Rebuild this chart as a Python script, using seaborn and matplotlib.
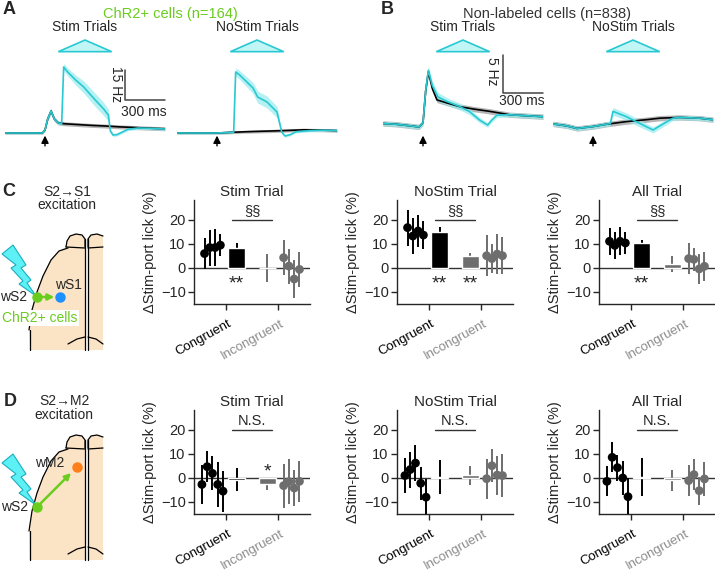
import numpy as np
import pandas as pd
import matplotlib
matplotlib.use("Agg")
import matplotlib.pyplot as plt
import matplotlib.transforms as mtransforms
from matplotlib.patches import Polygon
import seaborn as sns

W, H = 715, 574

# stimulus window (ms): onset, peak, offset
STIM_WIN = [100, 300, 500]

# A: ChR2+ cells, time (ms), mean (Hz, baseline subtracted), sem
A_STIM_K_T = [-300, -200, -100, -20, 0, 20, 45, 70, 100, 150, 250, 350, 450, 550, 650, 750, 900]
A_STIM_K_M = [0, 0, 0, 0, 1.5, 7, 11, 7, 5, 4.6, 4.2, 3.8, 3.5, 3.1, 2.8, 2.5, 2.1]
A_STIM_K_S = [0.6, 0.6, 0.6, 0.6, 0.7, 1.0, 1.3, 1.1, 1.0, 1.0, 1.0, 1.0, 1.0, 1.0, 1.0, 1.0, 1.0]
A_STIM_C_T = [-300, -200, -100, -20, 0, 20, 45, 70, 100, 125, 140, 170, 230, 290, 370, 440, 475,
              490, 510, 540, 580, 620, 700, 800, 900]
A_STIM_C_M = [0, 0, 0, 0, 1.5, 7, 11, 7, 5, 4.6, 33, 30.5, 26.5, 23, 17, 12, 9,
              1, -1, -0.8, 0.5, 1.8, 2.5, 2.3, 2.0]
A_STIM_C_S = [0.5, 0.5, 0.5, 0.5, 0.6, 0.9, 1.2, 1.0, 0.9, 0.9, 1.8, 2.0, 2.5, 3.0, 3.3, 3.3, 3.0,
              1.0, 0.7, 0.7, 0.7, 0.7, 0.7, 0.7, 0.7]
A_NOST_K_T = [-300, -150, 0, 100, 200, 350, 500, 650, 800, 900]
A_NOST_K_M = [0, 0, 0, 0.3, 0.6, 0.9, 1.2, 1.6, 1.4, 1.2]
A_NOST_K_S = [0.6, 0.6, 0.6, 0.7, 0.7, 0.8, 0.8, 0.8, 0.8, 0.8]
A_NOST_C_T = [-300, -150, 0, 100, 125, 140, 170, 270, 305, 375, 450, 485, 510, 550, 590, 700, 800, 900]
A_NOST_C_M = [0, 0, 0, 0.3, 0.4, 30.5, 29, 22.5, 18, 15.5, 10.5, 0.5, -1.5, -0.8, 0.6, 1.2, 1.4, 1.2]
A_NOST_C_S = [0.5, 0.5, 0.5, 0.5, 0.5, 2.0, 2.2, 2.8, 3.0, 3.0, 2.8, 0.8, 0.6, 0.6, 0.6, 0.6, 0.6, 0.6]

# B: non-labeled cells
B_STIM_K_T = [-300, -200, -100, -30, 0, 20, 40, 70, 105, 180, 280, 380, 500, 650, 800, 900]
B_STIM_K_M = [0.2, 0.1, -0.1, -0.25, 0.3, 4.5, 7.0, 4.8, 3.3, 2.9, 2.4, 2.1, 1.8, 1.35, 1.2, 1.1]
B_STIM_K_S = [0.35, 0.35, 0.35, 0.35, 0.35, 0.4, 0.45, 0.4, 0.35, 0.35, 0.35, 0.35, 0.35, 0.35, 0.35, 0.35]
B_STIM_C_T = [-300, -200, -100, -30, 0, 20, 40, 70, 112, 180, 280, 350, 425, 485, 515, 555, 650, 800, 900]
B_STIM_C_M = [0.2, 0.1, -0.1, -0.25, 0.3, 4.5, 7.2, 5.2, 3.7, 3.1, 2.4, 1.75, 0.65, 0.0, 0.65, 1.3, 1.35, 1.2, 1.1]
B_STIM_C_S = [0.3, 0.3, 0.3, 0.3, 0.3, 0.45, 0.6, 0.6, 0.6, 0.5, 0.45, 0.4, 0.35, 0.3, 0.3, 0.3, 0.3, 0.3, 0.3]
B_NOST_K_T = [-300, -200, -120, 0, 100, 250, 400, 500, 650, 800, 900]
B_NOST_K_M = [0.15, -0.1, -0.45, -0.2, 0.1, 0.45, 0.7, 0.9, 1.0, 0.9, 0.7]
B_NOST_K_S = [0.35, 0.35, 0.35, 0.35, 0.35, 0.35, 0.35, 0.35, 0.35, 0.35, 0.35]
B_NOST_C_T = [-300, -200, -120, 0, 100, 130, 150, 250, 375, 450, 555, 600, 650, 800, 900]
B_NOST_C_M = [0.15, -0.1, -0.45, -0.2, 0.1, 0.2, 1.8, 1.1, 0.0, -0.65, 0.45, 0.9, 1.0, 0.9, 0.7]
B_NOST_C_S = [0.3, 0.3, 0.3, 0.3, 0.3, 0.3, 0.5, 0.5, 0.45, 0.4, 0.35, 0.3, 0.3, 0.3, 0.3]

# C/D: change in stim-port lick (%), per mouse (mean, sem) and group bars [Congruent, Incongruent]
C_STIM_CONG = [6.0, 8.5, 8.5, 9.5]
C_STIM_CONG_ERR = [6.3, 7.5, 7.8, 4.5]
C_STIM_BAR = [8.2, 0.0]
C_STIM_BAR_ERR = [2.3, 5.8]
C_STIM_INC = [4.3, 0.8, -4.6, -0.6]
C_STIM_INC_ERR = [7.3, 7.3, 7.9, 7.3]

C_NOST_CONG = [16.8, 13.3, 15.4, 13.7]
C_NOST_CONG_ERR = [7.5, 7.3, 6.5, 5.7]
C_NOST_BAR = [15.1, 5.0]
C_NOST_BAR_ERR = [2.1, 1.4]
C_NOST_INC = [5.1, 3.9, 5.8, 5.1]
C_NOST_INC_ERR = [8.5, 6.2, 8.2, 7.6]

C_ALL_CONG = [11.1, 9.4, 11.1, 10.4]
C_ALL_CONG_ERR = [5.5, 5.6, 5.8, 4.5]
C_ALL_BAR = [10.6, 1.8]
C_ALL_BAR_ERR = [1.1, 3.3]
C_ALL_INC = [3.9, 3.6, -0.4, 0.7]
C_ALL_INC_ERR = [6.5, 4.7, 6.1, 6.1]

D_STIM_CONG = [-2.7, 4.7, 1.9, -2.7, -5.5]
D_STIM_CONG_ERR = [8.2, 6.5, 7.1, 9.2, 8.5]
D_STIM_BAR = [-0.8, -2.7]
D_STIM_BAR_ERR = [4.8, 2.2]
D_STIM_INC = [-3.2, -1.5, -4.2, -1.4]
D_STIM_INC_ERR = [9.2, 9.4, 7.5, 8.5]

D_NOST_CONG = [1.0, 3.5, 6.2, -2.2, -8.0]
D_NOST_CONG_ERR = [7.4, 7.5, 7.6, 6.8, 7.5]
D_NOST_BAR = [0.3, 1.1]
D_NOST_BAR_ERR = [7.1, 4.0]
D_NOST_INC = [-0.3, 5.1, 1.2, 1.0]
D_NOST_INC_ERR = [8.4, 6.8, 8.1, 8.8]

D_ALL_CONG = [-1.4, 8.6, 4.3, 0.0, -7.8]
D_ALL_CONG_ERR = [6.3, 6.3, 5.4, 7.0, 7.8]
D_ALL_BAR = [0.5, -1.0]
D_ALL_BAR_ERR = [7.9, 4.5]
D_ALL_INC = [-1.1, 1.4, -5.3, -0.4]
D_ALL_INC_ERR = [6.6, 6.5, 5.8, 7.0]

BLACK = "#000000"
GRAY = "#6e6e6e"
LGRAY = "#8c8c8c"
GREEN = "#6acd1e"
CYAN = "#28c9d2"
BLUE = "#1e90ff"
ORANGE = "#ff7f1a"
PEACH = "#fbe3c6"

sns.set_theme(style="ticks")
plt.rcParams["font.family"] = ["Liberation Sans", "DejaVu Sans"]
plt.rcParams["font.size"] = 10
plt.rcParams["axes.linewidth"] = 1.0

fig = plt.figure(figsize=(W / 100, H / 100), dpi=100)
fig.patch.set_facecolor("white")


def px_axes(x0, y0, x1, y1):
    return fig.add_axes([x0 / W, 1 - y1 / H, (x1 - x0) / W, (y1 - y0) / H])


# overlay in pixel coordinates for labels and schematics
ov = px_axes(0, 0, W, H)
ov.set_xlim(0, W)
ov.set_ylim(H, 0)
ov.axis("off")


def trace_panel(x0, title, black, cyan, ylim, bar_top, bar_len):
    ax = px_axes(x0, 38, x0 + 160, 140)
    for (t, m, s), col, band in ((black, BLACK, "#9c9c9c"), (cyan, CYAN, "#9cecef")):
        t, m, s = np.asarray(t), np.asarray(m), np.asarray(s)
        ax.fill_between(t, m - s, m + s, color=band, alpha=0.75, lw=0)
        sns.lineplot(x=t, y=m, ax=ax, color=col, lw=1.2)
    ax.set_xlim(-300, 900)
    ax.set_ylim(*ylim)
    ax.axis("off")
    tr = mtransforms.blended_transform_factory(ax.transData, ax.transAxes)
    on, pk, off = STIM_WIN
    ax.add_patch(Polygon([(on, 0.866), (pk, 0.98), (off, 0.866)], closed=True, transform=tr,
                         facecolor="#c2f6f6", edgecolor=CYAN, lw=1.2, clip_on=False))
    ax.annotate("", xy=(0, 0.07), xytext=(0, -0.085), xycoords=tr, textcoords=tr,
                arrowprops=dict(arrowstyle="-|>", color=BLACK, lw=1.0, mutation_scale=11),
                annotation_clip=False)
    ax.text(0.5, 1.11, title, transform=ax.transAxes, ha="center", va="center", fontsize=10)
    if bar_len:
        ax.plot([600, 600, 900], [bar_top, bar_top - bar_len, bar_top - bar_len],
                color="#444444", lw=1.1, clip_on=False)
    return ax


trace_panel(5, "Stim Trials", (A_STIM_K_T, A_STIM_K_M, A_STIM_K_S),
            (A_STIM_C_T, A_STIM_C_M, A_STIM_C_S), (-3.5, 47.5), 31.5, 15)
trace_panel(177, "NoStim Trials", (A_NOST_K_T, A_NOST_K_M, A_NOST_K_S),
            (A_NOST_C_T, A_NOST_C_M, A_NOST_C_S), (-3.5, 47.5), 0, 0)
trace_panel(383, "Stim Trials", (B_STIM_K_T, B_STIM_K_M, B_STIM_K_S),
            (B_STIM_C_T, B_STIM_C_M, B_STIM_C_S), (-1.97, 11.45), 9.2, 5)
trace_panel(553, "NoStim Trials", (B_NOST_K_T, B_NOST_K_M, B_NOST_K_S),
            (B_NOST_C_T, B_NOST_C_M, B_NOST_C_S), (-1.97, 11.45), 0, 0)

ov.text(116, 84, "15 Hz", rotation=-90, ha="center", va="center", fontsize=10)
ov.text(144, 112, "300 ms", ha="center", va="center", fontsize=10)
ov.text(492, 71, "5 Hz", rotation=-90, ha="center", va="center", fontsize=10)
ov.text(522, 101, "300 ms", ha="center", va="center", fontsize=10)

ov.text(170, 14, "ChR2+ cells (n=164)", color=GREEN, ha="center", va="center", fontsize=10.5)
ov.text(547, 14, "Non-labeled cells (n=838)", color="#333333", ha="center", va="center", fontsize=10.5)
for lab, x, y in (("A", 9, 10), ("B", 387, 9), ("C", 9, 191), ("D", 10, 401)):
    ov.text(x, y, lab, ha="center", va="center", fontsize=13, fontweight="bold")

BAR_X = [0.21, 0.79]


def bar_panel(x0, y0, title, cong, cong_err, grp, grp_err, inc, inc_err, mark, stars):
    ax = px_axes(x0, y0, x0 + 116, y0 + 104)
    cong_x = -0.25 + 0.1 * (np.arange(len(cong)) - (len(cong) - 1) / 2)
    inc_x = 1.25 + 0.1 * (np.arange(len(inc)) - (len(inc) - 1) / 2)
    ax.axhline(0, color="#333333", lw=1.0, zorder=1)
    for x, m, e, c, st in zip(BAR_X, grp, grp_err, (BLACK, GRAY), stars):
        ax.errorbar(x, m, yerr=e, color=c, lw=1.4, zorder=2)
        ax.bar(x, m, width=0.32, color=c, zorder=3)
        if st:
            ax.text(x, -6.5 if m > 0 else 2.5, st, ha="center", va="center", fontsize=14)
    ax.errorbar(cong_x, cong, yerr=cong_err, fmt="none", ecolor=BLACK, elinewidth=1.4, zorder=4)
    ax.errorbar(inc_x, inc, yerr=inc_err, fmt="none", ecolor=GRAY, elinewidth=1.4, zorder=4)
    pts = pd.DataFrame({"x": np.r_[cong_x, inc_x], "y": list(cong) + list(inc),
                        "grp": ["Congruent"] * len(cong) + ["Incongruent"] * len(inc)})
    sns.scatterplot(data=pts, x="x", y="y", hue="grp", palette=[BLACK, GRAY], s=40,
                    edgecolor="none", legend=False, ax=ax, zorder=5)
    ax.plot([0.12, 0.88], [20, 20], color="#333333", lw=1.0)
    ax.text(0.5, 21, mark, ha="center", va="bottom", fontsize=10.5)
    ax.set_xlim(-0.6, 1.6)
    ax.set_ylim(-15, 28.3)
    ax.set_yticks([-10, 0, 10, 20])
    ax.set_xticks([0, 1])
    ax.set_xticklabels([])
    ax.tick_params(direction="out", length=4, width=1, labelsize=10.5, pad=2)
    ax.set_xlabel("")
    ax.set_ylabel("\u0394Stim-port lick (%)", fontsize=10.5, labelpad=3)
    ax.set_title(title, fontsize=11, pad=3)
    sns.despine(ax=ax)
    tr = mtransforms.blended_transform_factory(ax.transData, ax.transAxes)
    ax.text(0.04, -0.13, "Congruent", rotation=29, ha="right", va="top",
            rotation_mode="anchor", transform=tr, color=BLACK, fontsize=9.5)
    ax.text(1.04, -0.13, "Incongruent", rotation=29, ha="right", va="top",
            rotation_mode="anchor", transform=tr, color=LGRAY, fontsize=9.5)
    return ax


bar_panel(194, 200, "Stim Trial", C_STIM_CONG, C_STIM_CONG_ERR, C_STIM_BAR, C_STIM_BAR_ERR,
          C_STIM_INC, C_STIM_INC_ERR, "\u00a7\u00a7", ["**", ""])
bar_panel(397, 200, "NoStim Trial", C_NOST_CONG, C_NOST_CONG_ERR, C_NOST_BAR, C_NOST_BAR_ERR,
          C_NOST_INC, C_NOST_INC_ERR, "\u00a7\u00a7", ["**", "**"])
bar_panel(599, 200, "All Trial", C_ALL_CONG, C_ALL_CONG_ERR, C_ALL_BAR, C_ALL_BAR_ERR,
          C_ALL_INC, C_ALL_INC_ERR, "\u00a7\u00a7", ["**", ""])
bar_panel(194, 410, "Stim Trial", D_STIM_CONG, D_STIM_CONG_ERR, D_STIM_BAR, D_STIM_BAR_ERR,
          D_STIM_INC, D_STIM_INC_ERR, "N.S.", ["", "*"])
bar_panel(397, 410, "NoStim Trial", D_NOST_CONG, D_NOST_CONG_ERR, D_NOST_BAR, D_NOST_BAR_ERR,
          D_NOST_INC, D_NOST_INC_ERR, "N.S.", ["", ""])
bar_panel(599, 410, "All Trial", D_ALL_CONG, D_ALL_CONG_ERR, D_ALL_BAR, D_ALL_BAR_ERR,
          D_ALL_INC, D_ALL_INC_ERR, "N.S.", ["", ""])


# ---- brain schematics (pixel coordinates)
def brain(dy, bottom):
    bulb_l = [(85, 247), (85, 239), (82, 235), (76, 234), (70, 236), (67, 241), (66, 247)]
    cortex_l = [(68, 248), (59, 251), (51, 260), (43, 276), (37, 292), (32, 310), (29, 330), (30, bottom)]
    bulb_r = [(88, 247), (88, 239), (91, 235), (97, 234), (103, 236)]
    sh = lambda pts: [(x, y + dy) for x, y in pts]
    ov.add_patch(Polygon(sh(bulb_l + cortex_l[1:-1]) + [(30, bottom), (85, bottom)],
                         closed=True, facecolor=PEACH, edgecolor="none"))
    ov.add_patch(Polygon(sh(bulb_r) + [(103, bottom), (88, bottom)],
                         closed=True, facecolor=PEACH, edgecolor="none"))
    for pts in (bulb_l, cortex_l[:-1], bulb_r, [(66, 247), (85, 248)], [(88, 248), (103, 247)]):
        xs, ys = zip(*sh(pts))
        ov.plot(xs, ys, color=BLACK, lw=0.9)
    ov.plot([30, 30], [cortex_l[-2][1] + dy, bottom], color=BLACK, lw=0.9)
    for x in (85, 88):
        ov.plot([x, x], [239 + dy, bottom], color=BLACK, lw=0.9)
    for pts in ([(68, bottom - 6), (77, bottom - 11), (85, bottom - 13)],
                [(88, bottom - 13), (96, bottom - 11), (103, bottom - 6)]):
        xs, ys = zip(*pts)
        ov.plot(xs, ys, color=BLACK, lw=0.9)


def bolt(tx, ty):
    rel = [(-34, -42), (-23, -51), (-10, -31), (-15, -28), (-5, -16), (-9, -13), (0, 0),
           (-17, -12), (-13, -15), (-25, -28), (-20, -31)]
    ov.add_patch(Polygon([(tx + x, ty + y) for x, y in rel], closed=True,
                         facecolor="#5df0f4", edgecolor="#1aaec0", lw=0.8, zorder=4))


brain(0, 350)
brain(201, 560)
bolt(36, 296)
bolt(36, 505)

ov.annotate("", xy=(57, 297), xytext=(39, 297),
            arrowprops=dict(arrowstyle="-|>", color=GREEN, lw=1.8, mutation_scale=9), zorder=5)
ov.plot([37], [297], "o", color=GREEN, ms=6.5, zorder=6)
ov.plot([60], [297], "o", color=BLUE, ms=6.5, zorder=6)
ov.text(68, 285, "wS1", ha="center", va="center", fontsize=10)
ov.text(14, 297, "wS2", ha="center", va="center", fontsize=10)
ov.text(40, 318, "ChR2+ cells", color=GREEN, ha="center", va="center", fontsize=10,
        bbox=dict(facecolor="white", edgecolor="none", pad=1))
ov.text(67, 192, "S2\u2192S1", ha="center", va="center", fontsize=10)
ov.text(67, 205, "excitation", ha="center", va="center", fontsize=10)

ov.annotate("", xy=(73, 471), xytext=(39, 505),
            arrowprops=dict(arrowstyle="-|>", color=GREEN, lw=1.8, mutation_scale=9), zorder=5)
ov.plot([37], [507], "o", color=GREEN, ms=6.5, zorder=6)
ov.plot([77], [467], "o", color=ORANGE, ms=6.5, zorder=6)
ov.text(50, 463, "wM2", ha="center", va="center", fontsize=10)
ov.text(15, 507, "wS2", ha="center", va="center", fontsize=10)
ov.text(65, 401, "S2\u2192M2", ha="center", va="center", fontsize=10)
ov.text(64, 415, "excitation", ha="center", va="center", fontsize=10)

fig.savefig("out.png", dpi=100, facecolor="white")
